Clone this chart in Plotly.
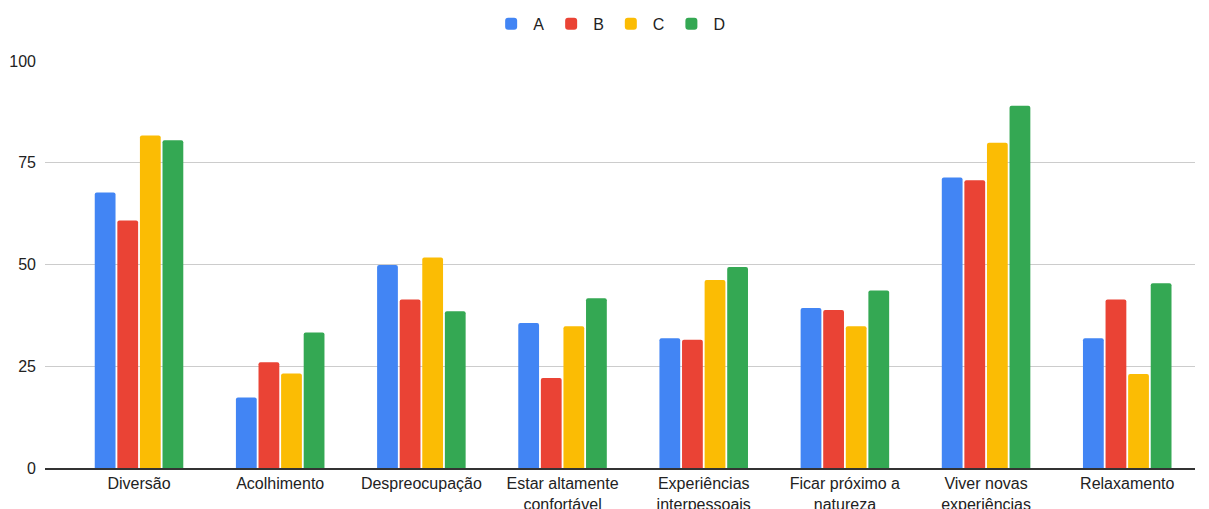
import plotly.graph_objects as go

categories = [
    "Diversão",
    "Acolhimento",
    "Despreocupação",
    "Estar altamente<br>confortável",
    "Experiências<br>interpessoais",
    "Ficar próximo a<br>natureza",
    "Viver novas<br>experiências",
    "Relaxamento",
]

series_names = ["A", "B", "C", "D"]
values_a = [67.7, 17.3, 49.9, 35.6, 31.9, 39.3, 71.4, 31.9]
values_b = [60.8, 26.0, 41.4, 22.1, 31.5, 38.8, 70.7, 41.4]
values_c = [81.7, 23.2, 51.7, 34.8, 46.2, 34.8, 79.9, 23.1]
values_d = [80.5, 33.3, 38.5, 41.7, 49.4, 43.6, 89.0, 45.4]
colors = ["#4285F4", "#EA4335", "#FBBC04", "#34A853"]

y_ticks = [0, 25, 50, 75, 100]

FONT = "Arial, Liberation Sans, sans-serif"

fig = go.Figure()
for name, vals, col in zip(series_names, [values_a, values_b, values_c, values_d], colors):
    fig.add_trace(go.Bar(
        name=name,
        x=list(range(len(categories))),
        y=vals,
        marker=dict(color=col, line=dict(width=0), cornerradius=2),
    ))

fig.update_layout(
    width=1209,
    height=509,
    barmode="group",
    bargap=0.36,
    bargroupgap=0.08,
    plot_bgcolor="white",
    paper_bgcolor="white",
    font=dict(family=FONT, size=16, color="#222222"),
    margin=dict(l=45, r=14, t=61, b=41, autoexpand=False),
    legend=dict(
        orientation="h",
        x=0.491, xanchor="center",
        y=0.953, yanchor="middle",
        yref="container",
        font=dict(family=FONT, size=16, color="#222222"),
        itemwidth=34,
    ),
    xaxis=dict(
        tickmode="array",
        tickvals=list(range(len(categories))),
        ticktext=categories,
        range=[-0.666, 7.48],
        showgrid=False,
        showline=True,
        linecolor="#333333",
        linewidth=2,
        ticks="",
        automargin=False,
        ticklabelstandoff=0,
        tickfont=dict(family=FONT, size=16, color="#222222"),
    ),
    yaxis=dict(
        range=[0, 100],
        tickvals=y_ticks,
        showgrid=True,
        gridcolor="#cccccc",
        gridwidth=1,
        zeroline=False,
        showline=False,
        ticks="",
        automargin=False,
        ticklabelstandoff=8,
        tickfont=dict(family=FONT, size=16, color="#222222"),
        fixedrange=True,
    ),
)

fig.write_html("out.html")
